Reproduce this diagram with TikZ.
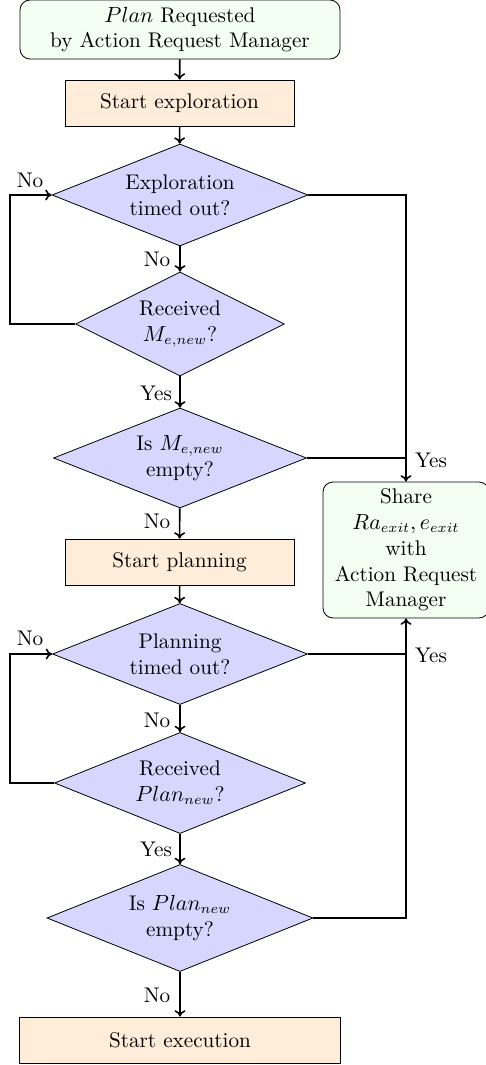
\documentclass[tikz,border=0pt]{standalone}
\usetikzlibrary{shapes.geometric,arrows.meta}
\begin{document}
\begin{tikzpicture}[x=0.5pt,y=-0.5pt,
  every node/.style={font=\fontsize{10.6}{12.9}\selectfont},
  startbox/.style={draw,rounded corners=5pt,fill=green!5,align=center,inner sep=2pt},
  procbox/.style={draw,fill=orange!15,align=center,inner sep=2pt,minimum height=23pt},
  decision/.style={draw,diamond,fill=blue!16,align=center,inner sep=0pt,aspect=2.5},
  flow/.style={thick,-{To[length=3.2pt,width=5.5pt]}},
  line/.style={thick},
  lbl/.style={inner sep=1pt}]
\useasboundingbox (0,0) rectangle (486,1065);

% main column
\node[startbox,minimum width=160pt,minimum height=29.5pt] (req) at (180,29.5)
  {$Plan$ Requested\\by Action Request Manager};
\node[procbox,minimum width=114.5pt] (explore) at (179.5,103) {Start exploration};
\node[decision,minimum width=128pt,minimum height=51pt] (etime) at (180,195)
  {Exploration\\timed out?};
\node[decision,minimum width=104.5pt,minimum height=52pt] (erecv) at (180,324)
  {Received\\$M_{e,new}$?};
\node[decision,minimum width=126.5pt,minimum height=50pt] (eempty) at (180,458)
  {Is $M_{e,new}$\\empty?};
\node[procbox,minimum width=114.5pt] (plan) at (179.5,562) {Start planning};
\node[decision,minimum width=127.5pt,minimum height=50.5pt] (ptime) at (180,654)
  {Planning\\timed out?};
\node[decision,minimum width=125.5pt,minimum height=50.5pt] (precv) at (180,783)
  {Received\\$Plan_{new}$?};
\node[decision,minimum width=133pt,minimum height=53.5pt] (pempty) at (180,918)
  {Is $Plan_{new}$\\empty?};
\node[procbox,minimum width=160.5pt] (exec) at (180,1040) {Start execution};

% exit box on the right
\node[startbox,minimum width=83pt,minimum height=68pt] (share) at (406,550)
  {Share\\$Ra_{exit}, e_{exit}$\\with\\Action Request\\Manager};

% helper coordinate for the loop-back column
\coordinate (loopx) at (10,0);

% straight flow
\draw[flow] (req) -- (explore);
\draw[flow] (explore) -- (etime);
\draw[flow] (etime) -- (erecv);
\draw[flow] (erecv) -- (eempty);
\draw[flow] (eempty) -- (plan);
\draw[flow] (plan) -- (ptime);
\draw[flow] (ptime) -- (precv);
\draw[flow] (precv) -- (pempty);
\draw[flow] (pempty) -- (exec);

% waiting loops
\draw[flow] (erecv.west) -- (erecv.west -| loopx) |- (etime.west);
\draw[flow] (precv.west) -- (precv.west -| loopx) |- (ptime.west);

% exits to the share box
\draw[flow] (etime.east) -| (share.north);
\draw[line] (eempty.east) -- (eempty.east -| share.north);
\draw[flow] (pempty.east) -| (share.south);
\draw[line] (ptime.east) -- (ptime.east -| share.south);

% branch labels
\node[lbl] (l1) at (30,180) {No};
\node[lbl] (l2) at (157,259) {No};
\node[lbl] (l3) at (156,393) {Yes};
\node[lbl] (l4) at (431,460) {Yes};
\node[lbl] (l5) at (157,521) {No};
\node[lbl] (l6) at (30,638) {No};
\node[lbl] (l7) at (431,655) {Yes};
\node[lbl] (l8) at (157,720) {No};
\node[lbl] (l9) at (156,849) {Yes};
\node[lbl] (l10) at (157,995) {No};
\end{tikzpicture}
\end{document}
